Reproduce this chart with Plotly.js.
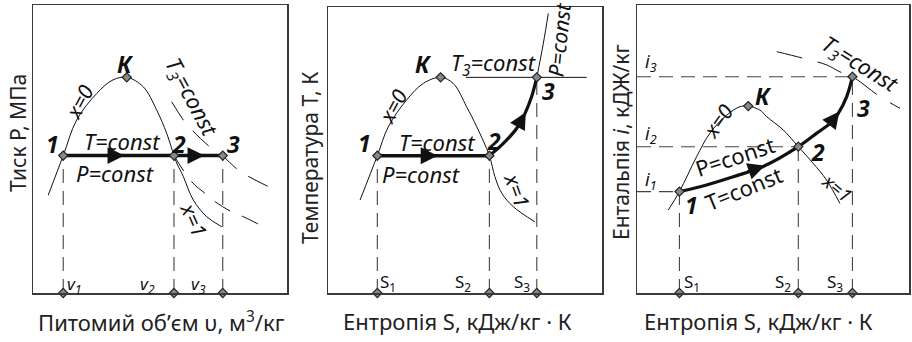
<!DOCTYPE html>
<html>
<head>
<meta charset="utf-8">
<script src="https://cdn.plot.ly/plotly-3.0.1.min.js"></script>
<style>html,body{margin:0;padding:0;background:#fff;}#chart{width:912px;height:342px;}</style>
</head>
<body>
<div id="chart"></div>
<script>
// ---------- Panel 1: P–v diagram (diagram units 0..100) ----------
const p1SatX = [6.0, 11.9, 17.2, 25.1, 31.5, 36.9, 43.4, 48.7, 52.6, 55.5, 56.6, 59.2, 63.1, 68.4, 74.3];
const p1SatY = [34.0, 47.7, 60.1, 69.3, 74.0, 74.9, 71.6, 63.5, 55.5, 47.7, 45.1, 40.4, 32.3, 26.5, 23.0];
const p1StateX = [11.9, 55.5, 74.7];
const p1StateY = [47.7, 47.7, 47.7];
const p1KX = [36.9], p1KY = [74.9];
const p1T3X = [54.6, 59.2, 62.5, 69.0, 74.5, 80.8, 85.4, 94.0];
const p1T3Y = [66.4, 60.1, 56.7, 51.2, 47.7, 42.7, 40.2, 36.4];
const p1T2X = [55.5, 62.5, 67.7, 71.7, 78.2, 82.8, 89.4];
const p1T2Y = [47.7, 38.6, 34.6, 31.7, 28.2, 26.5, 23.6];
const p1Ticks = ['v<sub>1</sub>', 'v<sub>2</sub>', 'v<sub>3</sub>'];
const p1ArrowX = [[25.0, 36.0], [60.0, 67.5]];
const p1ArrowY = [[47.7, 47.7], [47.7, 47.7]];

// ---------- Panel 2: T–s diagram ----------
const p2SatX = [11.7, 18.0, 22.0, 28.7, 34.8, 41.1, 45.7, 50.6, 54.3, 58.9, 60.9, 63.4, 67.6, 75.5];
const p2SatY = [32.5, 48.0, 58.1, 67.5, 73.3, 75.4, 73.3, 65.1, 58.1, 48.0, 40.7, 34.9, 30.2, 24.9];
const p2StateX = [18.0, 58.9, 76.2];
const p2StateY = [48.0, 48.0, 75.4];
const p2KX = [41.1], p2KY = [75.4];
const p2ProcX = [58.9, 64.0, 68.9, 71.9, 74.3, 76.2];
const p2ProcY = [48.0, 52.3, 57.6, 62.8, 68.6, 75.4];
const p2PcontX = [76.2, 78.6, 80.4];
const p2PcontY = [75.4, 87.3, 97.8];
const p2T3X = [50.3, 94.4];
const p2T3Y = [75.4, 75.4];
const p2Ticks = ['S<sub>1</sub>', 'S<sub>2</sub>', 'S<sub>3</sub>'];
const p2ArrowX = [[30.0, 40.0], [69.3, 72.2]];
const p2ArrowY = [[48.0, 48.0], [58.3, 63.2]];

// ---------- Panel 3: i–s diagram ----------
const p3SatX = [11.5, 15.6, 21.9, 26.8, 33.0, 37.9, 40.9, 45.2, 47.7, 53.8, 59.3, 64.8, 69.7, 74.6];
const p3SatY = [28.8, 35.2, 47.3, 55.5, 61.8, 64.7, 64.9, 63.5, 61.2, 56.6, 50.8, 45.0, 39.2, 31.1];
const p3StateX = [15.6, 59.3, 79.2];
const p3StateY = [35.2, 50.8, 75.1];
const p3KX = [40.9], p3KY = [64.9];
const p3ProcX = [15.6, 23.2, 35.4, 46.4, 59.3, 66.1, 71.0, 74.0, 77.1, 79.2];
const p3ProcY = [35.2, 36.9, 40.4, 43.9, 50.8, 55.5, 58.9, 62.4, 68.2, 75.1];
const p3T3X = [51.4, 61.1, 69.7, 74.6, 79.2, 89.3, 96.7];
const p3T3Y = [83.8, 81.5, 79.2, 76.8, 75.1, 68.2, 64.1];
const p3Ticks = ['S<sub>1</sub>', 'S<sub>2</sub>', 'S<sub>3</sub>'];
const p3ITicks = ['i<sub>1</sub>', 'i<sub>2</sub>', 'i<sub>3</sub>'];
const p3ArrowX = [[40.0, 47.0], [71.3, 74.4]];
const p3ArrowY = [[41.9, 44.2], [59.2, 63.0]];

// ---------- Texts ----------
const xTitles = ['Питомий об’єм υ, м<sup>3</sup>/кг', 'Ентропія S, кДж/кг · К', 'Ентропія S, кДж/кг · К'];
const yTitles = ['Тиск Р, МПа', 'Температура Т, К', 'Ентальпія <i>i</i>, кДЖ/кг'];

// ---------- Styles ----------
const INK = '#111';
const GRAY = '#444';
const DASH = '14px,8px';
const LBL = '"Noto Sans","DejaVu Sans",sans-serif';
const NUM = '"Noto Sans","DejaVu Sans",sans-serif';
const TITLE = '"Noto Sans","Open Sans",sans-serif';

const ax = ['x', 'x2', 'x3'], ay = ['y', 'y2', 'y3'];
const traces = [];

function line(i, xs, ys, opts) {
  traces.push(Object.assign({
    type: 'scatter', mode: 'lines', x: xs, y: ys, xaxis: ax[i], yaxis: ay[i],
    hoverinfo: 'skip', showlegend: false, cliponaxis: false
  }, opts));
}
function vDrops(i, xs, ys) {
  xs.forEach((x, k) => line(i, [x, x], [0, ys[k]], {line: {color: GRAY, width: 1.1, dash: DASH}}));
}
function hDrops(i, xs, ys) {
  xs.forEach((x, k) => line(i, [0, x], [ys[k], ys[k]], {line: {color: GRAY, width: 1.1, dash: DASH}}));
}
function dots(i, xs, ys) {
  traces.push({type: 'scatter', mode: 'markers', x: xs, y: ys, xaxis: ax[i], yaxis: ay[i],
    hoverinfo: 'skip', showlegend: false, cliponaxis: false,
    marker: {symbol: 'diamond', size: 7, color: '#888', line: {color: '#222', width: 1.2}}});
}
const satStyle = {line: {color: INK, width: 1, shape: 'spline', smoothing: 1}};

// Panel 1
vDrops(0, p1StateX, p1StateY);
line(0, p1SatX, p1SatY, satStyle);
line(0, p1T3X, p1T3Y, {line: {color: INK, width: 1, dash: '22px,14px', shape: 'spline'}});
line(0, p1T2X, p1T2Y, {line: {color: INK, width: 1, dash: '18px,13px', shape: 'spline'}});
line(0, p1StateX, p1StateY, {line: {color: INK, width: 3.5}});
dots(0, p1StateX, p1StateY);
dots(0, p1StateX, [0, 0, 0]);
dots(0, p1KX, p1KY);

// Panel 2
vDrops(1, p2StateX, p2StateY);
line(1, p2SatX, p2SatY, satStyle);
line(1, p2T3X, p2T3Y, {line: {color: INK, width: 1}});
line(1, p2PcontX, p2PcontY, {line: {color: INK, width: 1, shape: 'spline'}});
line(1, p2StateX.slice(0, 2), p2StateY.slice(0, 2), {line: {color: INK, width: 3.5}});
line(1, p2ProcX, p2ProcY, {line: {color: INK, width: 3.2, shape: 'spline'}});
dots(1, p2StateX, p2StateY);
dots(1, p2StateX, [0, 0, 0]);
dots(1, p2KX, p2KY);

// Panel 3
vDrops(2, p3StateX, p3StateY);
hDrops(2, p3StateX, p3StateY);
line(2, p3SatX, p3SatY, satStyle);
line(2, p3T3X, p3T3Y, {line: {color: INK, width: 1, dash: '26px,16px', shape: 'spline'}});
line(2, p3ProcX, p3ProcY, {line: {color: INK, width: 3.2, shape: 'spline'}});
dots(2, p3StateX, p3StateY);
dots(2, p3StateX, [0, 0, 0]);
dots(2, p3KX, p3KY);

// ---------- Annotations ----------
const ann = [];
function txt(i, x, y, text, size, family, angle) {
  ann.push({xref: ax[i], yref: ay[i], x: x, y: y, text: text, showarrow: false,
    font: {family: family, size: size, color: INK}, textangle: angle || 0,
    xanchor: 'center', yanchor: 'middle'});
}
function arrows(i, xsList, ysList) {
  xsList.forEach((xs, k) => ann.push({xref: ax[i], yref: ay[i], axref: ax[i], ayref: ay[i],
    x: xs[1], y: ysList[k][1], ax: xs[0], ay: ysList[k][0], text: '', showarrow: true,
    arrowhead: 2, arrowsize: 1.3, arrowwidth: 2.6, arrowcolor: INK, standoff: 0}));
}
const B = s => '<b><i>' + s + '</i></b>';
const I = s => '<i>' + s + '</i>';

arrows(0, p1ArrowX, p1ArrowY);
arrows(1, p2ArrowX, p2ArrowY);
arrows(2, p3ArrowX, p3ArrowY);

// Panel 1 labels
txt(0, 36.6, 79.5, B('К'), 23, NUM);
txt(0, 7.7, 51.6, B('1'), 23, NUM);
txt(0, 57.3, 51.6, B('2'), 23, NUM);
txt(0, 79.0, 51.9, B('3'), 23, NUM);
txt(0, 18.5, 66.5, I('x=0'), 21, LBL, -62);
txt(0, 35.2, 52.8, I('T=const'), 22, LBL);
txt(0, 32.3, 41.6, I('P=const'), 22, LBL);
txt(0, 62.2, 67.7, I('T<sub>3</sub>=const'), 22, LBL, 62);
txt(0, 63.5, 25.5, I('x=1'), 21, LBL, 66);
[16.5, 44.9, 65.0].forEach((x, k) => txt(0, x, 3.0, I(p1Ticks[k]), 17, LBL));

// Panel 2 labels
txt(1, 35.0, 80.0, B('К'), 23, NUM);
txt(1, 13.3, 52.6, B('1'), 23, NUM);
txt(1, 60.6, 53.0, B('2'), 23, NUM);
txt(1, 80.5, 70.6, B('3'), 23, NUM);
txt(1, 23.7, 65.5, I('x=0'), 21, LBL, -62);
txt(1, 39.8, 52.8, I('T=const'), 22, LBL);
txt(1, 34.3, 41.6, I('P=const'), 22, LBL);
txt(1, 60.7, 79.9, I('T<sub>3</sub>=const'), 22, LBL);
txt(1, 84.3, 88.5, I('P=const'), 21, LBL, -84);
txt(1, 69.0, 36.0, I('x=1'), 21, LBL, 70);
[21.9, 49.3, 70.8].forEach((x, k) => txt(1, x, 3.5, p2Ticks[k], 17, NUM));

// Panel 3 labels
txt(2, 46.6, 68.3, B('К'), 23, NUM);
txt(2, 20.2, 30.6, B('1'), 23, NUM);
txt(2, 66.7, 49.0, B('2'), 23, NUM);
txt(2, 83.3, 64.4, B('3'), 23, NUM);
txt(2, 29.8, 59.6, I('x=0'), 21, LBL, -55);
txt(2, 36.0, 47.6, 'P=const', 22, LBL, -18);
txt(2, 39.2, 36.6, 'T=const', 22, LBL, -22);
txt(2, 82.0, 79.0, I('T<sub>3</sub>=const'), 22, LBL, 32);
txt(2, 73.5, 36.3, I('x=1'), 19, LBL, 40);
[20.2, 53.7, 72.8].forEach((x, k) => txt(2, x, 3.5, p3Ticks[k], 17, NUM));
[39.2, 54.9, 80.2].forEach((y, k) => txt(2, 5.0, y, I(p3ITicks[k]), 18, LBL));

// Axis titles (positioned as in the reference)
const xTitlePos = [[161, 321], [458, 321], [758, 321]];
const yTitlePos = [[18, 133], [310, 158], [621, 142]];
xTitles.forEach((t, k) => ann.push({xref: 'paper', yref: 'paper', x: xTitlePos[k][0] / 912, y: 1 - xTitlePos[k][1] / 342,
  text: t, showarrow: false, font: {family: TITLE, size: 22, color: '#222'}, xanchor: 'center', yanchor: 'middle'}));
yTitles.forEach((t, k) => ann.push({xref: 'paper', yref: 'paper', x: yTitlePos[k][0] / 912, y: 1 - yTitlePos[k][1] / 342,
  text: t, showarrow: false, textangle: -90, font: {family: TITLE, size: 21, color: '#222'}, xanchor: 'center', yanchor: 'middle'}));

// ---------- Layout ----------
const W = 912, H = 342;
const boxes = [[33, 287, 5, 293], [328, 602, 7, 293], [637, 909, 5, 293]];
const axBase = {range: [0, 100], fixedrange: true, showgrid: false, zeroline: false, showticklabels: false,
  ticks: '', showline: true, mirror: true, linecolor: '#3a3a3a', linewidth: 1.5};
const layout = {width: W, height: H, margin: {l: 0, r: 0, t: 0, b: 0}, paper_bgcolor: '#fff', plot_bgcolor: '#fff',
  showlegend: false, annotations: ann};
boxes.forEach((b, k) => {
  const xn = k === 0 ? 'xaxis' : 'xaxis' + (k + 1);
  const yn = k === 0 ? 'yaxis' : 'yaxis' + (k + 1);
  layout[xn] = Object.assign({}, axBase, {domain: [b[0] / W, b[1] / W], anchor: ay[k]});
  layout[yn] = Object.assign({}, axBase, {domain: [1 - b[3] / H, 1 - b[2] / H], anchor: ax[k]});
});

Plotly.newPlot('chart', traces, layout, {staticPlot: true, displayModeBar: false});
</script>
</body>
</html>
